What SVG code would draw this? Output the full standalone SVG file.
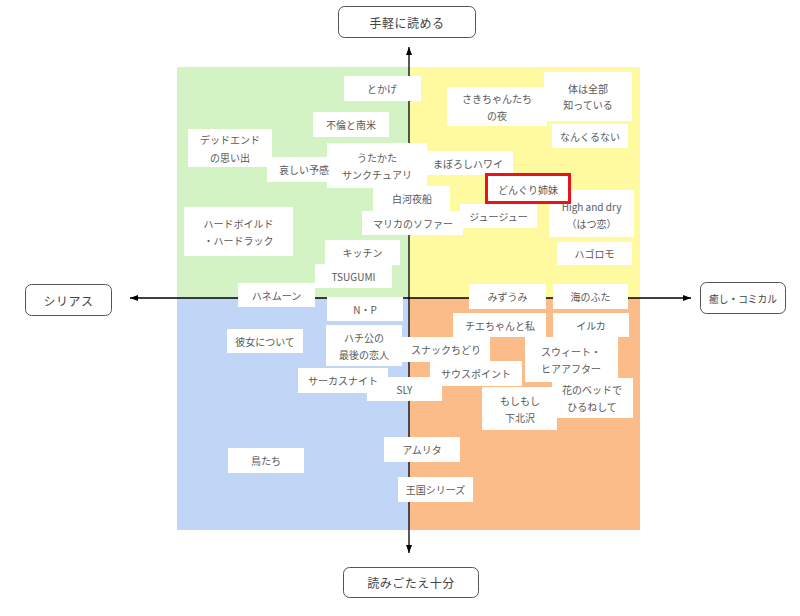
<svg xmlns="http://www.w3.org/2000/svg" width="800" height="616" viewBox="0 0 800 616">
<defs>
<marker id="ah" viewBox="0 0 8 6" refX="8" refY="3" markerWidth="8" markerHeight="6" markerUnits="userSpaceOnUse" orient="auto-start-reverse">
<path d="M0,0 L8,3 L0,6 Z" fill="#000"/>
</marker>
<style>
.n rect{fill:#fff;stroke:none}
.n text{font-family:"Noto Sans CJK JP","Noto Sans",sans-serif;font-size:10px;fill:#595959;text-anchor:middle;dominant-baseline:central}
.ax rect{fill:#fff;stroke:#555;stroke-width:1}
.ax text{font-family:"Noto Sans CJK JP","Noto Sans",sans-serif;font-size:12px;fill:#444;text-anchor:middle;dominant-baseline:central;letter-spacing:0.5px}
.conn line{stroke:#000;stroke-width:1.3}
</style>
</defs>
<rect width="800" height="616" fill="#fff"/>
<g id="quadrants">
<rect x="177" y="67" width="232" height="231" fill="#d4f3c4"/>
<rect x="409" y="67" width="231" height="231" fill="#fffaa0"/>
<rect x="177" y="298" width="232" height="232" fill="#c1d6f7"/>
<rect x="409" y="298" width="231" height="232" fill="#fcbc8a"/>
</g>
<g id="connectors" class="conn">
<line x1="409" y1="47" x2="409" y2="553" marker-start="url(#ah)" marker-end="url(#ah)"/>
<line x1="130" y1="298" x2="691" y2="298" marker-start="url(#ah)" marker-end="url(#ah)"/>
</g>
<g id="axis-top" class="ax"><rect x="338.5" y="6.5" width="137" height="31" rx="6"/><text x="407" y="22">手軽に読める</text></g>
<g id="axis-bottom" class="ax"><rect x="343.5" y="567.5" width="135" height="30" rx="6"/><text x="411" y="582.5">読みごたえ十分</text></g>
<g id="axis-left" class="ax"><rect x="25.5" y="284.5" width="86" height="31" rx="6"/><text x="68.5" y="300">シリアス</text></g>
<g id="axis-right" class="ax"><rect x="700.5" y="282.5" width="85" height="31" rx="6"/><text x="743" y="298" style="font-size:10.5px;letter-spacing:0" textLength="68" lengthAdjust="spacingAndGlyphs">癒し・コミカル</text></g>

<g id="n-tokage" class="n"><rect x="344" y="76" width="77" height="25"/><text x="382" y="88.5">とかげ</text></g>
<g id="n-furin" class="n"><rect x="313" y="112" width="76" height="25"/><text x="351" y="124.5">不倫と南米</text></g>
<g id="n-deadend" class="n"><rect x="188" y="129" width="84" height="38"/><text x="230" y="139">デッドエンド</text><text x="230" y="157">の思い出</text></g>
<g id="n-utakata" class="n"><rect x="327" y="143" width="100" height="45"/><text x="377" y="157">うたかた</text><text x="377" y="174">サンクチュアリ</text></g>
<g id="n-kanashii" class="n"><rect x="267" y="157" width="65" height="25"/><text x="304" y="169">哀しい予感</text></g>
<g id="n-shirakawa" class="n"><rect x="373" y="186" width="77" height="25"/><text x="412" y="198">白河夜船</text></g>
<g id="n-marika" class="n"><rect x="362" y="211" width="101" height="24"/><text x="413" y="223">マリカのソファー</text></g>
<g id="n-hardboiled" class="n"><rect x="184" y="207" width="109" height="49"/><text x="238.5" y="223">ハードボイルド</text><text x="238.5" y="240">・ハードラック</text></g>
<g id="n-kitchen" class="n"><rect x="325" y="240" width="75" height="25"/><text x="362.5" y="252">キッチン</text></g>
<g id="n-tsugumi" class="n"><rect x="315" y="264" width="77" height="24"/><text x="353.5" y="276">TSUGUMI</text></g>
<g id="n-honeymoon" class="n"><rect x="238" y="283" width="77" height="24"/><text x="276.5" y="295">ハネムーン</text></g>
<g id="n-np" class="n"><rect x="327" y="297" width="76" height="24"/><text x="365" y="309">N・P</text></g>
<g id="n-hachiko" class="n"><rect x="326" y="325" width="76" height="41"/><text x="364" y="337">ハチ公の</text><text x="364" y="354">最後の恋人</text></g>
<g id="n-kanojo" class="n"><rect x="227" y="329" width="76" height="24"/><text x="265" y="341">彼女について</text></g>
<g id="n-sly" class="n"><rect x="367" y="377" width="75" height="24"/><text x="404.5" y="389">SLY</text></g>
<g id="n-circus" class="n"><rect x="298" y="368" width="90" height="25"/><text x="343" y="380.5">サーカスナイト</text></g>
<g id="n-toritachi" class="n"><rect x="228" y="448" width="76" height="25"/><text x="266" y="460.5">鳥たち</text></g>
<g id="n-snack" class="n"><rect x="402" y="337" width="88" height="25"/><text x="446" y="349.5">スナックちどり</text></g>
<g id="n-south" class="n"><rect x="430" y="361" width="92" height="25"/><text x="476" y="373">サウスポイント</text></g>
<g id="n-amrita" class="n"><rect x="384" y="437" width="76" height="25"/><text x="422" y="449.5">アムリタ</text></g>
<g id="n-oukoku" class="n"><rect x="398" y="477" width="75" height="25"/><text x="435.5" y="489.5">王国シリーズ</text></g>
<g id="n-mizuumi" class="n"><rect x="469" y="284" width="77" height="25"/><text x="507.5" y="296.5">みずうみ</text></g>
<g id="n-uminofuta" class="n"><rect x="553" y="284" width="75" height="25"/><text x="590.5" y="296.5">海のふた</text></g>
<g id="n-chie" class="n"><rect x="453" y="313" width="93" height="24"/><text x="500" y="325">チエちゃんと私</text></g>
<g id="n-iruka" class="n"><rect x="553" y="313" width="76" height="24"/><text x="591" y="325">イルカ</text></g>
<g id="n-sweet" class="n"><rect x="525" y="337" width="93" height="45"/><text x="571" y="351">スウィート・</text><text x="571" y="368">ヒアアフター</text></g>
<g id="n-moshimoshi" class="n"><rect x="482" y="387" width="75" height="43"/><text x="520" y="400">もしもし</text><text x="520" y="417">下北沢</text></g>
<g id="n-hana" class="n"><rect x="552" y="378" width="81" height="40"/><text x="592" y="389">花のベッドで</text><text x="592" y="406">ひるねして</text></g>

<g id="n-sakichan" class="n"><rect x="447" y="87" width="100" height="39"/><text x="497" y="98">さきちゃんたち</text><text x="497" y="115">の夜</text></g>
<g id="n-karada" class="n"><rect x="544" y="72" width="88" height="49"/><text x="588" y="88">体は全部</text><text x="588" y="104">知っている</text></g>
<g id="n-nankuru" class="n"><rect x="552" y="124" width="76" height="24"/><text x="590" y="136">なんくるない</text></g>
<g id="n-maboroshi" class="n"><rect x="427" y="151" width="86" height="24"/><text x="468" y="163">まぼろしハワイ</text></g>
<g id="n-highdry" class="n"><rect x="549" y="190" width="85" height="47"/><text x="591.5" y="206">High and dry</text><text x="591.5" y="223">（はつ恋）</text></g>
<g id="n-juju" class="n"><rect x="460" y="204" width="77" height="24"/><text x="498.5" y="216">ジュージュー</text></g>
<g id="n-hagoromo" class="n"><rect x="557" y="242" width="75" height="23"/><text x="594.5" y="253.5">ハゴロモ</text></g>
<g id="n-donguri" class="n"><rect x="486.5" y="174.5" width="83" height="28" style="stroke:#e8141c;stroke-width:3"/><text x="528" y="189">どんぐり姉妹</text></g>
</svg>
